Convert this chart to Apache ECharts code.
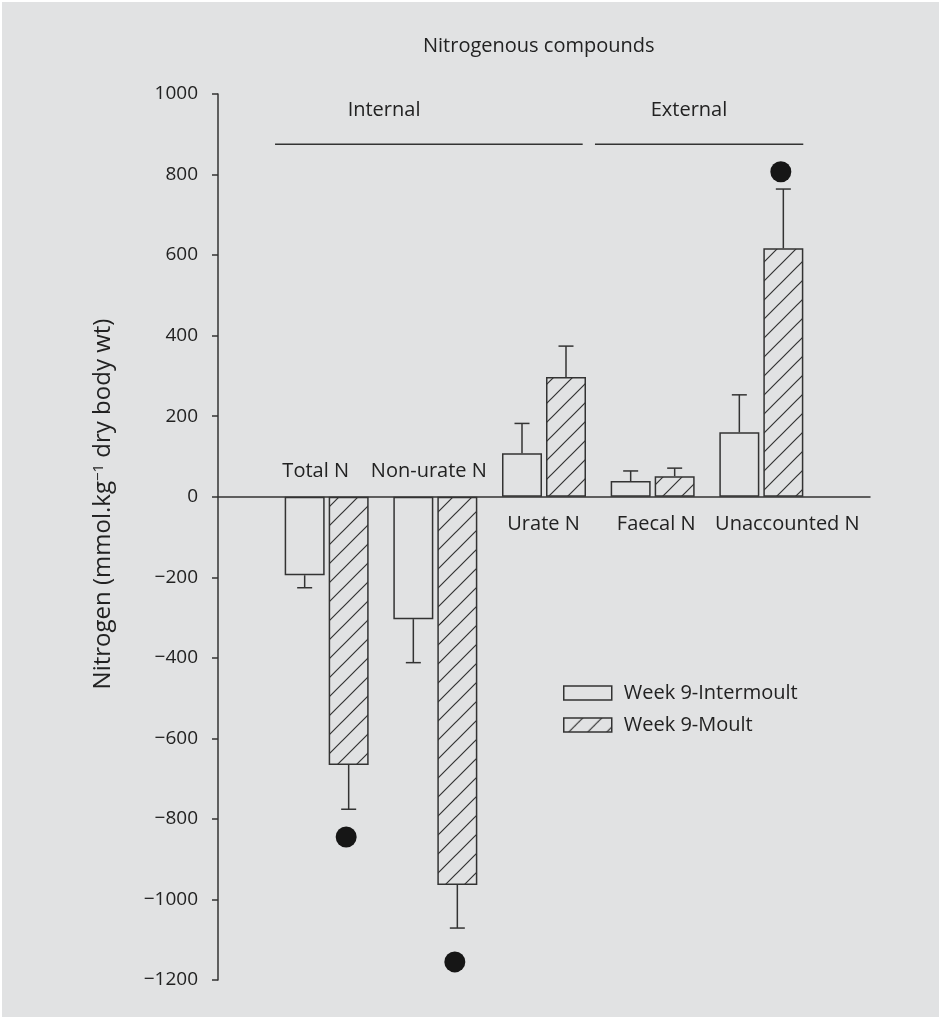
<!DOCTYPE html>
<html><head><meta charset="utf-8">
<script src="https://cdn.jsdelivr.net/npm/echarts@6/dist/echarts.min.js"></script>
<style>html,body{margin:0;padding:0;background:#fff}#c{width:941px;height:1019px}</style>
</head><body><div id="c"></div>
<script>
// ---- data ----
const categories = ['Total N', 'Non-urate N', 'Urate N', 'Faecal N', 'Unaccounted N'];
const seriesNames = ['Week 9-Intermoult', 'Week 9-Moult'];
const intermoult = [-195, -304, 108, 39, 160];
const intermoultErrEnd = [-226, -412, 182, 64, 253];
const moult = [-666, -964, 297, 51, 617];
const moultErrEnd = [-776, -1071, 374, 71, 764];
const moultSignificance = [-845, -1155, null, null, 807];
const groupNames = ['Internal', 'External'];
const yMin = -1200, yMax = 1000, yStep = 200;

// ---- layout (annotation placement, not data) ----
const catLabelDx = [-11, -6.5, -0.5, 3.5, 26];
const groupSpan = [[0.525, 3.356], [3.469, 5.386]];
const groupTextX = [1.528, 4.334];
const groupLineY = 875, groupTextY = 960;

const FONT = "'Open Sans', sans-serif";
const INK = '#222222';
const LINE = '#333333';
const BG = '#e1e2e3';

// hatch pattern
const pc = document.createElement('canvas');
const P = 19;
pc.width = P; pc.height = P;
const g = pc.getContext('2d');
g.fillStyle = BG; g.fillRect(0, 0, P, P);
g.strokeStyle = LINE; g.lineWidth = 1.2;
g.beginPath();
g.moveTo(-2, P + 2); g.lineTo(P + 2, -2);
g.moveTo(-2, 2); g.lineTo(2, -2);
g.moveTo(P - 2, P + 2); g.lineTo(P + 2, P - 2);
g.stroke();
const hatch = { image: pc, repeat: 'repeat' };

const xCats = [''].concat(categories, ['']);
const OFF = 22;

function errData(vals, ends, sign) {
  return vals.map((v, i) => [i + 1, v, ends[i], sign]);
}

const chart = echarts.init(document.getElementById('c'), null, { renderer: 'canvas' });
chart.setOption({
  backgroundColor: BG,
  animation: false,
  textStyle: { fontFamily: FONT, color: INK },
  title: {
    text: 'Nitrogenous compounds', left: 418, top: 31,
    textStyle: { fontFamily: FONT, fontSize: 20, fontWeight: 'normal', color: INK }
  },
  grid: { left: 218, right: 71, top: 94, bottom: 39, containLabel: false },
  legend: {
    data: seriesNames, orient: 'vertical', left: 563, top: 683, padding: 0,
    itemWidth: 48, itemHeight: 14, itemGap: 12, icon: 'rect',
    itemStyle: { borderWidth: 1.5, borderColor: LINE },
    textStyle: { fontFamily: FONT, fontSize: 20, color: INK, lineHeight: 14, padding: [0, 0, 0, 7] }
  },
  xAxis: [{
    type: 'category', data: xCats, boundaryGap: false,
    axisLine: { onZero: true, lineStyle: { color: LINE, width: 1.5 } },
    axisTick: { show: false }, axisLabel: { show: false }, splitLine: { show: false }
  }, {
    type: 'value', min: 0, max: 6, show: false
  }],
  yAxis: {
    type: 'value', min: yMin, max: yMax, interval: yStep,
    name: '{n|Nitrogen (mmol.kg}{sup|−1}{n| dry body wt)}',
    nameLocation: 'middle', nameGap: 103,
    nameTextStyle: {
      fontFamily: FONT, fontSize: 24, color: INK, padding: [0, 0, 0, 66],
      rich: {
        n: { fontFamily: FONT, fontSize: 24, color: INK },
        sup: { fontFamily: FONT, fontSize: 15, color: INK, verticalAlign: 'top' }
      }
    },
    axisLine: { show: true, onZero: false, lineStyle: { color: LINE, width: 1.5 } },
    axisTick: { show: true, length: 6, lineStyle: { color: LINE, width: 1.5 } },
    axisLabel: {
      fontFamily: FONT, fontSize: 19, color: INK, margin: 20,
      formatter: v => String(v).replace('-', '\u2212')
    },
    splitLine: { show: false }
  },
  graphic: [{
    type: 'rect', shape: { x: 0, y: 0, width: 941, height: 1019 },
    style: { fill: 'none', stroke: '#ffffff', lineWidth: 4 }, z: 100, silent: true
  }],
  series: [
    {
      name: seriesNames[0], type: 'bar', xAxisIndex: 0,
      data: intermoult.map((v, i) => [i + 1, v]),
      barWidth: 40, barGap: '10%',
      itemStyle: { color: BG, borderColor: LINE, borderWidth: 1.5 }
    },
    {
      name: seriesNames[1], type: 'bar', xAxisIndex: 0,
      data: moult.map((v, i) => [i + 1, v]),
      barWidth: 40, barGap: '10%',
      itemStyle: { color: hatch, borderColor: LINE, borderWidth: 1.5 }
    },
    {
      type: 'custom', xAxisIndex: 0, silent: true, z: 5,
      data: errData(intermoult, intermoultErrEnd, -1).concat(errData(moult, moultErrEnd, 1)),
      renderItem: function (params, api) {
        const a = api.coord([api.value(0), api.value(1)]);
        const b = api.coord([api.value(0), api.value(2)]);
        const x = a[0] + api.value(3) * OFF;
        const st = { stroke: LINE, lineWidth: 1.5 };
        return { type: 'group', children: [
          { type: 'line', shape: { x1: x, y1: a[1], x2: x, y2: b[1] }, style: st },
          { type: 'line', shape: { x1: x - 7.5, y1: b[1], x2: x + 7.5, y2: b[1] }, style: st }
        ]};
      }
    },
    {
      type: 'scatter', xAxisIndex: 0, silent: true, symbol: 'circle', symbolSize: 21,
      symbolOffset: [19.5, 0],
      itemStyle: { color: '#161616', opacity: 1 },
      data: moultSignificance.map((v, i) => v == null ? null : [i + 1, v]).filter(d => d)
    },
    {
      type: 'custom', xAxisIndex: 0, silent: true, z: 6,
      data: categories.map((c, i) => [i + 1, 0, intermoult[i] < 0 ? -1 : 1, catLabelDx[i]]),
      renderItem: function (params, api) {
        const p = api.coord([api.value(0), api.value(1)]);
        const down = api.value(2) > 0;
        return {
          type: 'text', x: p[0] + api.value(3), y: p[1] + (down ? 28 : -25),
          style: { text: categories[params.dataIndex], fill: INK, fontFamily: FONT, fontSize: 20,
                   align: 'center', verticalAlign: 'middle' }
        };
      }
    },
    {
      type: 'custom', xAxisIndex: 1, silent: true, z: 6,
      data: groupNames.map((n, i) => [groupSpan[i][0], groupSpan[i][1], groupLineY, groupTextX[i], groupTextY]),
      renderItem: function (params, api) {
        const a = api.coord([api.value(0), api.value(2)]);
        const b = api.coord([api.value(1), api.value(2)]);
        const t = api.coord([api.value(3), api.value(4)]);
        return { type: 'group', children: [
          { type: 'line', shape: { x1: a[0], y1: a[1], x2: b[0], y2: b[1] }, style: { stroke: LINE, lineWidth: 1.5 } },
          { type: 'text', x: t[0], y: t[1], style: { text: groupNames[params.dataIndex], fill: INK,
            fontFamily: FONT, fontSize: 20, align: 'center', verticalAlign: 'middle' } }
        ]};
      }
    }
  ]
});
</script></body></html>
